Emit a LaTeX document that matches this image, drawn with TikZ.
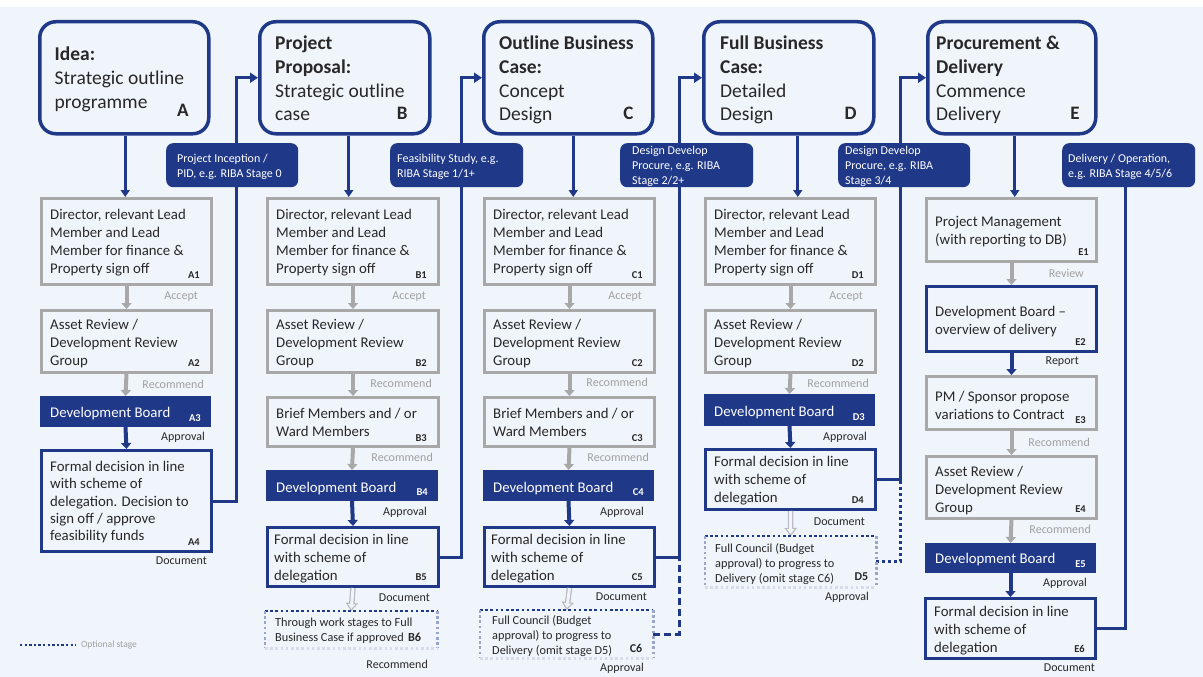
\documentclass[tikz,border=0pt]{standalone}
\usepackage{fontspec}
\setmainfont{Carlito}
\usetikzlibrary{arrows.meta}
\pgfdeclarelayer{back}
\pgfsetlayers{back,main}
\definecolor{navy}{RGB}{31,56,136}
\definecolor{bg}{RGB}{240,245,252}
\definecolor{bgray}{RGB}{168,168,168}
\definecolor{lgray}{RGB}{160,160,160}
\definecolor{hgray}{RGB}{185,185,190}
\definecolor{dtext}{RGB}{40,40,40}
\begin{document}
\begin{tikzpicture}[x=1pt,y=-1pt,
 hdr/.style={draw=navy,line width=3.5,rounded corners=16,fill=bg,anchor=north west,inner sep=0,minimum height=112},
 gbox/.style={draw=bgray,line width=3,fill=bg,anchor=north west,inner sep=0},
 nbox/.style={draw=navy,line width=3,fill=bg,anchor=north west,inner sep=0},
 fbox/.style={draw=navy,fill=navy,line width=1,anchor=north west,inner sep=0},
 dbox/.style={anchor=north west,inner sep=0,fill=bg},
 lbox/.style={fill=navy,rounded corners=7,anchor=north west,inner sep=0,minimum height=44},
 htxt/.style={font=\fontsize{19.5}{23.7}\selectfont,align=left,anchor=north west,inner sep=0,text=dtext},
 hid/.style={font=\bfseries\fontsize{19}{22}\selectfont,anchor=base east,inner sep=0,text=dtext},
 btxt/.style={font=\fontsize{14.8}{18}\selectfont,align=left,anchor=north west,inner sep=0,text=dtext},
 wtxt/.style={font=\fontsize{14.8}{18}\selectfont,anchor=base west,inner sep=0,text=white},
 otxt/.style={font=\fontsize{12.3}{15}\selectfont,align=left,anchor=north west,inner sep=0,text=dtext},
 ltxt/.style={font=\fontsize{12}{15}\selectfont,align=left,anchor=north west,inner sep=0,text=white},
 bid/.style={font=\bfseries\fontsize{10.5}{12}\selectfont,anchor=base east,inner sep=0,text=dtext},
 wid/.style={bid,text=white},
 gl/.style={font=\fontsize{12}{14}\selectfont,anchor=east,inner sep=0,text=lgray},
 dl/.style={gl,text=dtext},
 garrow/.style={draw=bgray,line width=4,-{Triangle[length=6pt,width=10pt]}},
 narrow/.style={draw=navy,line width=4,-{Triangle[length=6pt,width=10pt]}},
 hdarrow/.style={draw=navy,line width=3,-{Triangle[length=7pt,width=9pt]}},
 conn/.style={draw=navy,line width=3},
 connarrow/.style={conn,-{Triangle[length=8pt,width=10pt]}},
 hol1/.style={draw=hgray,line width=5.5,-{Triangle[length=8pt,width=12pt]}},
 hol2/.style={draw=bg,line width=3,-{Triangle[length=4.8pt,width=7.2pt]},shorten >=2pt},
 dotline/.style={line width=2.6,dash pattern=on 2.6pt off 2.6pt},
]
\useasboundingbox (0,0) rectangle (1203,677);

% ---------------- headers
\node[hdr,minimum width=169] (hA) at (38,20) {};
\node[hdr,minimum width=170] (hB) at (258,20) {};
\node[hdr,minimum width=169] (hC) at (482,20) {};
\node[hdr,minimum width=170] (hD) at (702,20) {};
\node[hdr,minimum width=168] (hE) at (926,20) {};
\node[htxt] (tA) at ([xshift=16.5,yshift=-27]hA.north west) {\textbf{Idea:}\\Strategic outline\\programme};
\node[htxt] (tB) at ([xshift=17,yshift=-16]hB.north west) {\textbf{Project}\\\textbf{Proposal:}\\Strategic outline\\case};
\node[htxt] (tC) at ([xshift=17,yshift=-16]hC.north west) {\textbf{Outline Business}\\\textbf{Case:}\\Concept\\Design};
\node[htxt] (tD) at ([xshift=18,yshift=-16]hD.north west) {\textbf{Full Business}\\\textbf{Case:}\\Detailed\\Design};
\node[htxt] (tE) at ([xshift=10,yshift=-16]hE.north west) {\textbf{Procurement \&}\\\textbf{Delivery}\\Commence\\Delivery};
\node[hid] (iA) at ([xshift=-21.75,yshift=18.75]hA.south east) {A};
\node[hid] (iB) at ([xshift=-23.75,yshift=15.75]hB.south east) {B};
\node[hid] (iC) at ([xshift=-20.75,yshift=15.75]hC.south east) {C};
\node[hid] (iD) at ([xshift=-18.75,yshift=15.75]hD.south east) {D};
\node[hid] (iE) at ([xshift=-17.75,yshift=15.75]hE.south east) {E};

% ---------------- column A
\node[gbox,minimum width=170,minimum height=86] (A1) at (40,197) {};
\node[gbox,minimum width=170,minimum height=62] (A2) at (40,309) {};
\node[fbox,minimum width=170,minimum height=30] (A3) at (40,396) {};
\node[nbox,minimum width=170,minimum height=101] (A4) at (40,449) {};
% ---------------- column B
\node[gbox,minimum width=171,minimum height=86] (B1) at (266,197) {};
\node[gbox,minimum width=171,minimum height=62] (B2) at (266,309) {};
\node[gbox,minimum width=171,minimum height=49] (B3) at (266,396) {};
\node[fbox,minimum width=171,minimum height=30] (B4) at (266,470) {};
\node[nbox,minimum width=171,minimum height=59] (B5) at (266,526) {};
\node[dbox,minimum width=172,minimum height=37] (B6) at (265,611) {};
% ---------------- column C
\node[gbox,minimum width=170,minimum height=86] (C1) at (483,197) {};
\node[gbox,minimum width=170,minimum height=62] (C2) at (483,309) {};
\node[gbox,minimum width=170,minimum height=49] (C3) at (483,396) {};
\node[fbox,minimum width=170,minimum height=30] (C4) at (483,470) {};
\node[nbox,minimum width=170,minimum height=59] (C5) at (483,526) {};
\node[dbox,minimum width=173,minimum height=48] (C6) at (480,610) {};
% ---------------- column D
\node[gbox,minimum width=170,minimum height=86] (D1) at (704,197) {};
\node[gbox,minimum width=170,minimum height=62] (D2) at (704,309) {};
\node[fbox,minimum width=170,minimum height=31] (D3) at (704,394) {};
\node[nbox,minimum width=170,minimum height=60] (D4) at (704,448) {};
\node[dbox,minimum width=171,minimum height=51] (D5) at (705,536) {};
% ---------------- column E
\node[gbox,minimum width=170,minimum height=63] (E1) at (925,197) {};
\node[nbox,minimum width=170,minimum height=65] (E2) at (925,285) {};
\node[gbox,minimum width=170,minimum height=53] (E3) at (925,375) {};
\node[gbox,minimum width=170,minimum height=62] (E4) at (925,455) {};
\node[fbox,minimum width=170,minimum height=29] (E5) at (925,543) {};
\node[nbox,minimum width=170,minimum height=60] (E6) at (924,597) {};

% ---------------- box texts
\node[btxt] at ([xshift=10,yshift=-12]A1.north west) {Director, relevant Lead\\Member and Lead\\Member for finance \&\\Property sign off};
\node[btxt] at ([xshift=10,yshift=-12]B1.north west) {Director, relevant Lead\\Member and Lead\\Member for finance \&\\Property sign off};
\node[btxt] at ([xshift=10,yshift=-12]C1.north west) {Director, relevant Lead\\Member and Lead\\Member for finance \&\\Property sign off};
\node[btxt] at ([xshift=10,yshift=-12]D1.north west) {Director, relevant Lead\\Member and Lead\\Member for finance \&\\Property sign off};
\node[btxt] at ([xshift=10,yshift=-10]A2.north west) {Asset Review /\\Development Review\\Group};
\node[btxt] at ([xshift=10,yshift=-10]B2.north west) {Asset Review /\\Development Review\\Group};
\node[btxt] at ([xshift=10,yshift=-10]C2.north west) {Asset Review /\\Development Review\\Group};
\node[btxt] at ([xshift=10,yshift=-10]D2.north west) {Asset Review /\\Development Review\\Group};
\node[btxt] at ([xshift=10,yshift=-12]B3.north west) {Brief Members and / or\\Ward Members};
\node[btxt] at ([xshift=10,yshift=-12]C3.north west) {Brief Members and / or\\Ward Members};
\node[wtxt] at ([xshift=10,yshift=10]A3.south west) {Development Board};
\node[wtxt] at ([xshift=10,yshift=9]B4.south west) {Development Board};
\node[wtxt] at ([xshift=10,yshift=9]C4.south west) {Development Board};
\node[wtxt] at ([xshift=10,yshift=10]D3.south west) {Development Board};
\node[wtxt] at ([xshift=10,yshift=10]E5.south west) {Development Board};
\node[btxt,font=\fontsize{14.8}{17.3}\selectfont] at ([xshift=10,yshift=-12]A4.north west) {Formal decision in line\\with scheme of\\delegation. Decision to\\sign off / approve\\feasibility funds};
\node[btxt] at ([xshift=8,yshift=-8]B5.north west) {Formal decision in line\\with scheme of\\delegation};
\node[btxt] at ([xshift=8,yshift=-8]C5.north west) {Formal decision in line\\with scheme of\\delegation};
\node[btxt] at ([xshift=10,yshift=-8]D4.north west) {Formal decision in line\\with scheme of\\delegation};
\node[btxt] at ([xshift=10,yshift=-9]E6.north west) {Formal decision in line\\with scheme of\\delegation};
\node[btxt] at ([xshift=10,yshift=-19]E1.north west) {Project Management\\(with reporting to DB)};
\node[btxt] at ([xshift=10,yshift=-21]E2.north west) {Development Board --\\overview of delivery};
\node[btxt] at ([xshift=10,yshift=-16]E3.north west) {PM / Sponsor propose\\variations to Contract};
\node[btxt] at ([xshift=10,yshift=-11]E4.north west) {Asset Review /\\Development Review\\Group};
\node[otxt] at ([xshift=10,yshift=-7]B6.north west) {Through work stages to Full\\Business Case if approved};
\node[otxt] at ([xshift=12,yshift=-5]C6.north west) {Full Council (Budget\\approval) to progress to\\Delivery (omit stage D5)};
\node[otxt] at ([xshift=10,yshift=-7]D5.north west) {Full Council (Budget\\approval) to progress to\\Delivery (omit stage C6)};

% ---------------- ids
\node[bid] at ([xshift=-13,yshift=8]A1.south east) {A1};
\node[bid] at ([xshift=-13,yshift=8]A2.south east) {A2};
\node[wid] at ([xshift=-10,yshift=6]A3.south east) {A3};
\node[bid] at ([xshift=-13,yshift=8]A4.south east) {A4};
\node[bid] at ([xshift=-13,yshift=8]B1.south east) {B1};
\node[bid] at ([xshift=-13,yshift=8]B2.south east) {B2};
\node[bid] at ([xshift=-13,yshift=7]B3.south east) {B3};
\node[wid] at ([xshift=-10,yshift=6]B4.south east) {B4};
\node[bid] at ([xshift=-13,yshift=8]B5.south east) {B5};
\node[bid,font=\bfseries\fontsize{12.3}{14}\selectfont] at ([xshift=-16,yshift=7]B6.south east) {B6};
\node[bid] at ([xshift=-13,yshift=8]C1.south east) {C1};
\node[bid] at ([xshift=-13,yshift=8]C2.south east) {C2};
\node[bid] at ([xshift=-13,yshift=7]C3.south east) {C3};
\node[wid] at ([xshift=-10,yshift=6]C4.south east) {C4};
\node[bid] at ([xshift=-13,yshift=8]C5.south east) {C5};
\node[bid,font=\bfseries\fontsize{12}{14}\selectfont] at ([xshift=-11,yshift=6]C6.south east) {C6};
\node[bid] at ([xshift=-13,yshift=8]D1.south east) {D1};
\node[bid] at ([xshift=-13,yshift=8]D2.south east) {D2};
\node[wid] at ([xshift=-10,yshift=6]D3.south east) {D3};
\node[bid] at ([xshift=-13,yshift=8]D4.south east) {D4};
\node[bid,font=\bfseries\fontsize{12}{14}\selectfont] at ([xshift=-8,yshift=7]D5.south east) {D5};
\node[bid] at ([xshift=-9,yshift=8]E1.south east) {E1};
\node[bid] at ([xshift=-12,yshift=8]E2.south east) {E2};
\node[bid] at ([xshift=-12,yshift=8]E3.south east) {E3};
\node[bid] at ([xshift=-12,yshift=8]E4.south east) {E4};
\node[wid] at ([xshift=-10,yshift=6]E5.south east) {E5};
\node[bid] at ([xshift=-12,yshift=8]E6.south east) {E6};

% ---------------- stage labels
\node[lbox,minimum width=132] (L1) at (166,143) {};
\node[lbox,minimum width=133] (L2) at (390,143) {};
\node[lbox,minimum width=133] (L3) at (620,143) {};
\node[lbox,minimum width=132] (L4) at (838,143) {};
\node[lbox,minimum width=133] (L5) at (1062,143) {};
\node[ltxt] at ([xshift=11,yshift=-11]L1.north west) {Project Inception /\\PID, e.g. RIBA Stage 0};
\node[ltxt] at ([xshift=7,yshift=-11]L2.north west) {Feasibility Study, e.g.\\RIBA Stage 1/1+};
\node[ltxt] at ([xshift=12,yshift=-3]L3.north west) {Design Develop\\Procure, e.g. RIBA\\Stage 2/2+};
\node[ltxt] at ([xshift=7,yshift=-3]L4.north west) {Design Develop\\Procure, e.g. RIBA\\Stage 3/4};
\node[ltxt] at ([xshift=6,yshift=-11]L5.north west) {Delivery / Operation,\\e.g. RIBA Stage 4/5/6};

% ---------------- flow labels
\node[gl] at (198,297) {Accept};
\node[gl] at (204,384) {Recommend};
\node[dl] at (205,437) {Approval};
\node[dl] at (207,561) {Document};
\node[gl] at (426,297) {Accept};
\node[gl] at (432,383) {Recommend};
\node[gl] at (433,457) {Recommend};
\node[dl] at (427,512) {Approval};
\node[dl] at (430,598) {Document};
\node[dl] at (428,664) {Recommend};
\node[gl] at (642,297) {Accept};
\node[gl] at (648,382) {Recommend};
\node[gl] at (649,457) {Recommend};
\node[dl] at (644,512) {Approval};
\node[dl] at (647,597) {Document};
\node[dl] at (644,668) {Approval};
\node[gl] at (863,297) {Accept};
\node[gl] at (869,383) {Recommend};
\node[dl] at (867,437) {Approval};
\node[dl] at (865,522) {Document};
\node[dl] at (869,597) {Approval};
\node[gl] at (1084,273) {Review};
\node[dl] at (1079,362) {Report};
\node[gl] at (1090,442) {Recommend};
\node[gl] at (1091,529) {Recommend};
\node[dl] at (1087,583) {Approval};
\node[dl] at (1095,668) {Document};

% ---------------- legend
\coordinate (lg1) at (20,645);
\coordinate (lg2) at (76,645);
\draw[navy,line width=2.4,dash pattern=on 2.4pt off 2.2pt] (lg1) -- (lg2);
\node[gl,anchor=west,font=\fontsize{9.5}{11}\selectfont] (lgt) at (81,645) {Optional stage};

% ---------------- arrows in columns
\draw[hdarrow] ([xshift=1]hA.south) -- ([xshift=1]hA.south |- A1.north);
\draw[hdarrow] ([xshift=4]hB.south) -- ([xshift=4]hB.south |- B1.north);
\draw[hdarrow] ([xshift=5]hC.south) -- ([xshift=5]hC.south |- C1.north);
\draw[hdarrow] ([xshift=9]hD.south) -- ([xshift=9]hD.south |- D1.north);
\draw[hdarrow] ([xshift=3]hE.south) -- ([xshift=3]hE.south |- E1.north);
\draw[garrow] (A1.south) -- (A2.north);
\draw[garrow] (A2.south) -- (A3.north);
\draw[narrow] (A3.south) -- (A4.north);
\draw[garrow] (B1.south) -- (B2.north);
\draw[garrow] (B2.south) -- (B3.north);
\draw[garrow] (B3.south) -- (B4.north);
\draw[narrow] (B4.south) -- (B5.north);
\draw[garrow] (C1.south) -- (C2.north);
\draw[garrow] (C2.south) -- (C3.north);
\draw[garrow] (C3.south) -- (C4.north);
\draw[narrow] (C4.south) -- (C5.north);
\draw[garrow] (D1.south) -- (D2.north);
\draw[garrow] (D2.south) -- (D3.north);
\draw[narrow] (D3.south) -- (D4.north);
\draw[garrow] (E1.south) -- (E2.north);
\draw[narrow] (E2.south) -- (E3.north);
\draw[garrow] (E3.south) -- (E4.north);
\draw[garrow] (E4.south) -- (E5.north);
\draw[narrow] (E5.south) -- (E6.north);
\draw[hol1] (B5.south) -- (B6.north);
\draw[hol2] (B5.south) -- (B6.north);
\draw[hol1] (C5.south) -- (C6.north);
\draw[hol2] (C5.south) -- (C6.north);
\draw[hol1] (D4.south) -- (D5.north);
\draw[hol2] (D4.south) -- (D5.north);

% ---------------- dotted optional boxes
\foreach \b in {B6,C6,D5}{
  \draw[dotline,navy] (\b.north west) -- (\b.north east);
  \draw[dotline,navy!45] (\b.north west) -- (\b.south west);
  \draw[dotline,navy!45] (\b.north east) -- (\b.south east);
  \draw[dotline,navy!18] (\b.south west) -- (\b.south east);
}

% ---------------- background & connectors
\begin{pgfonlayer}{back}
\fill[white] (0,0) rectangle (1203,677);
\fill[bg] (0,7) rectangle (1203,677);
\draw[connarrow] (A4.east) -- ++(23.5,0) |- (hB.west);
\draw[connarrow] (B5.east) -- ++(21,0) |- (hC.west);
\draw[connarrow] (C5.east) -- ++(23.5,0) |- (hD.west);
\draw[connarrow] (D4.east) -- ++(23.5,0) |- (hE.west);
\draw[conn] (E6.east) -| ([xshift=-3]L5.south);
\draw[conn,dash pattern=on 7pt off 4pt] (C6.east) -| ([xshift=23.5]C5.east);
\draw[conn,dash pattern=on 3pt off 3pt] (D5.east) -| ([xshift=23.5]D4.east);
\end{pgfonlayer}
\end{tikzpicture}
\end{document}
